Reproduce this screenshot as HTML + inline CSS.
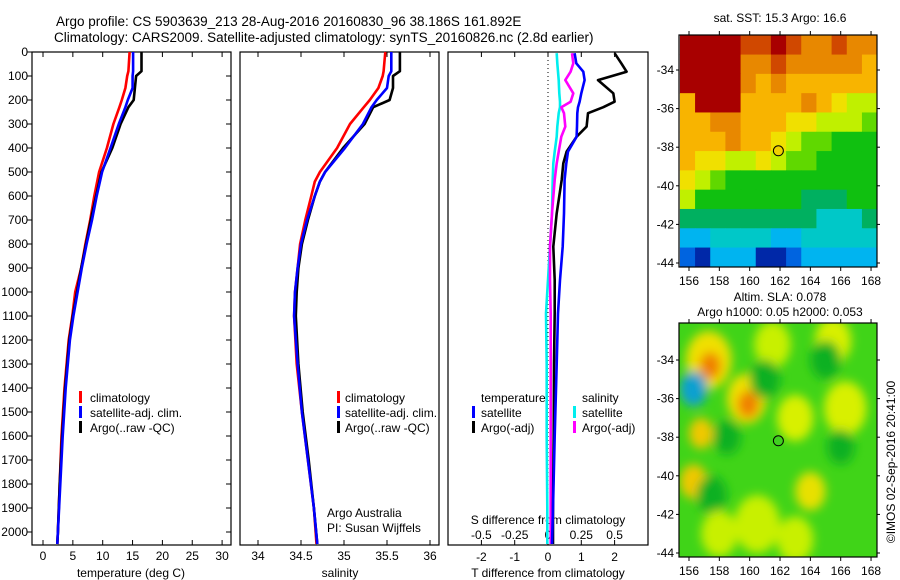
<!DOCTYPE html>
<html><head><meta charset="utf-8"><style>
body{margin:0;background:#fff}
svg{display:block;font-family:"Liberation Sans",sans-serif}
</style></head><body>
<svg id="c" width="900" height="580" xmlns="http://www.w3.org/2000/svg">
<defs>
<filter id="blur" x="-50%" y="-50%" width="200%" height="200%"><feGaussianBlur stdDeviation="5"/></filter>
<clipPath id="clipTop"><rect x="679" y="35" width="198" height="232"/></clipPath>
<clipPath id="clipBot"><rect x="679" y="323" width="198" height="234"/></clipPath>
</defs>
<text x="56" y="26" font-size="13.5">Argo profile: CS 5903639_213 28-Aug-2016 20160830_96 38.186S 161.892E</text>
<text x="54" y="42" font-size="13.5">Climatology: CARS2009. Satellite-adjusted climatology: synTS_20160826.nc (2.8d earlier)</text>
<g id="g"></g>
</svg>
<script>
// ---------- data ----------
const depthT = [0,80,100,150,200,230,300,400,500,600,700,800,900,1000,1100,1200,1400,1600,1800,2000,2050];
const tempArgo = [16.5,16.5,15.6,15.4,15.2,14.3,13.0,11.6,9.8,8.9,8.0,7.2,6.4,5.7,5.0,4.4,3.7,3.2,2.8,2.5,2.4];
const tempSat  = [15.1,15.1,15.0,15.0,14.2,13.8,12.7,11.3,9.9,9.0,8.2,7.3,6.5,5.8,5.1,4.5,3.8,3.3,2.9,2.5,2.4];
const tempClim = [14.5,14.3,14.1,13.8,13.2,12.8,11.8,10.7,9.4,8.6,7.9,7.1,6.4,5.4,4.9,4.3,3.6,3.1,2.8,2.5,2.4];
const depthS = [0,80,100,150,200,230,300,400,500,540,600,700,800,900,1000,1100,1300,1500,1700,1900,2050];
const salArgo = [35.65,35.65,35.57,35.57,35.53,35.34,35.24,34.99,34.78,34.72,34.66,34.58,34.51,34.47,34.45,34.44,34.47,34.52,34.59,34.65,34.69];
const salSat  = [35.55,35.55,35.52,35.50,35.38,35.32,35.22,35.01,34.78,34.72,34.66,34.57,34.50,34.46,34.43,34.42,34.46,34.51,34.58,34.65,34.69];
const salClim = [35.48,35.46,35.45,35.40,35.30,35.23,35.07,34.92,34.72,34.66,34.62,34.55,34.49,34.46,34.43,34.42,34.45,34.51,34.58,34.65,34.68];
const depthD = [5,47,82,117,172,207,230,255,311,353,415,464,533,672,811,950,1089,1300,1600,1900,2050];
const dTArgo = [2.0,2.2,2.36,1.5,1.96,2.0,1.66,1.2,1.16,0.86,0.56,0.46,0.41,0.26,0.16,0.2,0.2,0.18,0.17,0.15,0.15];
const dTSat  = [0.8,0.85,1.06,1.1,1.0,0.95,0.9,0.88,0.87,0.86,0.6,0.55,0.5,0.48,0.44,0.36,0.3,0.26,0.2,0.15,0.12];
const dSArgo = [0.18,0.19,0.17,0.13,0.19,0.17,0.10,0.12,0.13,0.10,0.08,0.065,0.05,0.03,0.015,0.015,0.02,0.02,0.02,0.02,0.02];
const dSSat  = [0.065,0.07,0.075,0.08,0.085,0.09,0.09,0.08,0.07,0.065,0.05,0.04,0.035,0.03,0.015,0.0,-0.015,-0.01,-0.01,-0.005,-0.005];
const depthTicks = [0,100,200,300,400,500,600,700,800,900,1000,1100,1200,1300,1400,1500,1600,1700,1800,1900,2000];
const tTicks = [0,5,10,15,20,25,30];
const sTicks = [34,34.5,35,35.5,36];
const dTTicks = [-2,-1,0,1,2];
const dSTicks = [-0.5,-0.25,0,0.25,0.5];
const dSTickLabels = ['-0.5','-0.25','0','0.25','0.5'];
const lonTicks = [156,158,160,162,164,166,168];
const latTicks = [-34,-36,-38,-40,-42,-44];
const argoLon = 161.892, argoLat = -38.186;
// SST map colour-index grid: rows from -32.2 (1 deg each), cols from 155.4 (1 deg each)
const sstGrid = [
"0000110122122",
"0000221222223",
"0000232333333",
"3000333323455",
"3322333445556",
"3332334566777",
"3445545667777",
"4567777777777",
"5777777788877",
"8888888889998",
"aa9999aa99999",
"bcaaaccbaaaaa",
"bcaaaccbaaaaa"];
const sstPalette = {"0":"#a80000","1":"#d04800","2":"#e88800","3":"#f8b400","4":"#f0e000","5":"#c0f000","6":"#60d800","7":"#10c010","8":"#00b060","9":"#00c8c8","a":"#00b4f0","b":"#0064e0","c":"#0028a8"};
// SLA blobs: lon, lat, radius (deg), colour
const slaLon = [157.3,157.4,156.3,159.8,159.9,156.8,156.3,163.0,164.0,166.3,165.5,161.5,158.5,157.5,161.0,165.0,166.0,160.5,163.0,158.0];
const slaLat = [-34.0,-34.3,-35.5,-36.0,-36.3,-37.8,-40.3,-37.0,-40.8,-36.5,-33.0,-33.2,-38.0,-41.0,-35.0,-34.0,-38.5,-42.5,-43.3,-43.0];
const slaRad = [1.5,0.7,0.9,1.3,0.7,0.8,0.9,1.2,1.0,1.4,1.2,1.2,0.9,1.0,1.0,1.0,0.9,1.5,1.2,1.2];
const slaCol = ["#f0e000","#f08000","#10a0d0","#f0e000","#f08000","#f0c800","#f0c800","#d8f000","#e8e000","#d8f000","#d8f000","#c8f000","#10b020","#10b020","#10b020","#10b020","#10b020","#c8f000","#c8f000","#c8f000"];

// ---------- helpers ----------
const NS = "http://www.w3.org/2000/svg";
const G = document.getElementById('g');
function el(tag, attrs, parent) { const e = document.createElementNS(NS, tag); for (const k in attrs) e.setAttribute(k, attrs[k]); (parent||G).appendChild(e); return e; }
function txt(x,y,s,size,anchor,name,parent){ const t=el('text',{x:x,y:y,'font-size':size,'text-anchor':anchor||'start'},parent); t.textContent=s;   return t; }
const TOP=52, BOT=545;
const yD = d => TOP + d*0.24;
function line(x1,y1,x2,y2,name,extra){ const l=el('line',Object.assign({x1:x1,y1:y1,x2:x2,y2:y2,stroke:'#000','stroke-width':1},extra||{}));   return l; }
function profile(xs, ds, xf, color, name){ const pts = xs.map((v,i)=>xf(v).toFixed(1)+','+yD(ds[i]).toFixed(1)).join(' '); const p=el('polyline',{points:pts,fill:'none',stroke:color,'stroke-width':2.6,'stroke-linejoin':'round'});   }
function frame(x0,x1,name){ const r=el('rect',{x:x0,y:TOP,width:x1-x0,height:BOT-TOP,fill:'none',stroke:'#000','stroke-width':1.2});   }
function legendBar(x,y,color,name){ const r=el('rect',{x:x,y:y-10,width:3,height:12,fill:color});   }

// ---------- panel 1: temperature ----------
const xT = v => 43 + v*5.97;
frame(32,231,'temperature-panel-frame');
depthTicks.forEach(d=>{ line(27,yD(d),32,yD(d),'depth-tick'); line(226,yD(d),231,yD(d),'depth-tick-right'); txt(28,yD(d)+4,String(d),12,'end','depth-tick-label'); });
tTicks.forEach(v=>{ line(xT(v),BOT,xT(v),BOT-5,'temp-tick'); line(xT(v),TOP,xT(v),TOP+5,'temp-tick-top'); txt(xT(v),560,String(v),12,'middle','temp-tick-label'); });
txt(131,577,'temperature (deg C)',12,'middle','temperature-axis-title');
profile(tempClim, depthT, xT, '#f00', 'temp-climatology-line');
profile(tempArgo, depthT, xT, '#000', 'temp-argo-line');
profile(tempSat, depthT, xT, '#00f', 'temp-satellite-line');
legendBar(79,401,'#f00','legend-swatch-climatology'); txt(90,402,'climatology',12,'start','legend-climatology');
legendBar(79,416,'#00f','legend-swatch-satellite'); txt(90,417,'satellite-adj. clim.',12,'start','legend-satellite');
legendBar(79,431,'#000','legend-swatch-argo'); txt(90,432,'Argo(..raw -QC)',12,'start','legend-argo');

// ---------- panel 2: salinity ----------
const xS = v => 258 + (v-34)*86;
frame(240,439,'salinity-panel-frame');
sTicks.forEach(v=>{ line(xS(v),BOT,xS(v),BOT-5,'sal-tick'); line(xS(v),TOP,xS(v),TOP+5,'sal-tick-top'); txt(xS(v),560,String(v),12,'middle','sal-tick-label'); });
txt(340,577,'salinity',12,'middle','salinity-axis-title');
profile(salClim, depthS, xS, '#f00', 'sal-climatology-line');
profile(salArgo, depthS, xS, '#000', 'sal-argo-line');
profile(salSat, depthS, xS, '#00f', 'sal-satellite-line');
legendBar(337,401,'#f00','legend-swatch-climatology-2'); txt(345,402,'climatology',12,'start','legend-climatology-2');
legendBar(337,416,'#00f','legend-swatch-satellite-2'); txt(345,417,'satellite-adj. clim.',12,'start','legend-satellite-2');
legendBar(337,431,'#000','legend-swatch-argo-2'); txt(345,432,'Argo(..raw -QC)',12,'start','legend-argo-2');
txt(327,517,'Argo Australia',12,'start','credit-argo-australia');
txt(327,532,'PI: Susan Wijffels',12,'start','credit-pi');

// ---------- panel 3: differences ----------
const xDT = v => 548 + v*33.3;
const xDS = v => xDT(v*4);
frame(448,648,'difference-panel-frame');
line(548,TOP,548,BOT,'zero-line',{'stroke-dasharray':'1,3'});
dTTicks.forEach(v=>{ line(xDT(v),BOT,xDT(v),BOT-5,'dT-tick'); line(xDT(v),TOP,xDT(v),TOP+5,'dT-tick-top'); txt(xDT(v),561,String(v),12,'middle','dT-tick-label'); });
dSTicks.forEach((v,i)=>{ txt(xDS(v),539,dSTickLabels[i],12,'middle','dS-tick-label'); });
txt(548,524,'S difference from climatology',12,'middle','s-difference-title');
txt(548,577,'T difference from climatology',12,'middle','t-difference-title');
profile(dSSat, depthD, xDS, '#0ee', 'dS-satellite-line');
profile(dSArgo, depthD, xDS, '#f0f', 'dS-argo-line');
profile(dTArgo, depthD, xDT, '#000', 'dT-argo-line');
profile(dTSat, depthD, xDT, '#00f', 'dT-satellite-line');
txt(481,402,'temperature',12,'start','legend-temperature-header');
legendBar(472,416,'#00f','legend-swatch-t-satellite'); txt(481,417,'satellite',12,'start','legend-t-satellite');
legendBar(472,431,'#000','legend-swatch-t-argo'); txt(481,432,'Argo(-adj)',12,'start','legend-t-argo');
txt(582,402,'salinity',12,'start','legend-salinity-header');
legendBar(573,416,'#0ee','legend-swatch-s-satellite'); txt(582,417,'satellite',12,'start','legend-s-satellite');
legendBar(573,431,'#f0f','legend-swatch-s-argo'); txt(582,432,'Argo(-adj)',12,'start','legend-s-argo');

// ---------- maps ----------
const mx = lon => 689 + (lon-156)*15.17;
function mapAxes(y0,y1,yLat,name){
  const r=el('rect',{x:679,y:y0,width:198,height:y1-y0,fill:'none',stroke:'#000','stroke-width':1.2});  
  lonTicks.forEach(v=>{ line(mx(v),y0,mx(v),y0-4,name+'-lon-tick'); line(mx(v),y1,mx(v),y1+4,name+'-lon-tick-b'); txt(mx(v),y1+18,String(v),12,'middle',name+'-lon-label'); });
  latTicks.forEach(v=>{ line(679,yLat(v),676,yLat(v),name+'-lat-tick'); line(877,yLat(v),880,yLat(v),name+'-lat-tick-r'); txt(674,yLat(v)+4,String(v),12,'end',name+'-lat-label'); });
}
// top SST map
const yTop = lat => 70 + (-34-lat)*19.3;
const sstG = el('g',{'clip-path':'url(#clipTop)'});  
sstGrid.forEach((row,ri)=>{ for(let ci=0;ci<row.length;ci++){ const lat0=-32.2-ri, lon0=155.4+ci; const r=el('rect',{x:mx(lon0),y:yTop(lat0),width:15.6,height:19.8,fill:sstPalette[row[ci]]},sstG);   } });
mapAxes(35,267,yTop,'sst-map');
const c1=el('circle',{cx:mx(argoLon),cy:yTop(argoLat),r:5,fill:'#f0d000',stroke:'#000','stroke-width':1});  
txt(780,22,'sat. SST: 15.3 Argo: 16.6',12,'middle','sst-map-title');
// bottom SLA map
const yBot = lat => 360 + (-34-lat)*19.3;
const slaG = el('g',{'clip-path':'url(#clipBot)'});  
const bg=el('rect',{x:679,y:323,width:198,height:234,fill:'#40d418'},slaG);  
const bl = el('g',{filter:'url(#blur)'},slaG);
slaLon.forEach((lon,i)=>{ const e=el('ellipse',{cx:mx(lon),cy:yBot(slaLat[i]),rx:slaRad[i]*15.17,ry:slaRad[i]*19.3,fill:slaCol[i]},bl);   });
mapAxes(323,557,yBot,'sla-map');
const c2=el('circle',{cx:mx(argoLon),cy:yBot(argoLat),r:5,fill:'#40d020',stroke:'#000','stroke-width':1});  
txt(780,301,'Altim. SLA: 0.078',12,'middle','sla-map-title-1');
txt(780,316,'Argo h1000: 0.05 h2000: 0.053',12,'middle','sla-map-title-2');
const cr = txt(0,0,'©IMOS 02-Sep-2016 20:41:00',12,'middle','imos-credit');
cr.setAttribute('transform','translate(895,462) rotate(-90)');
</script>
</body></html>
